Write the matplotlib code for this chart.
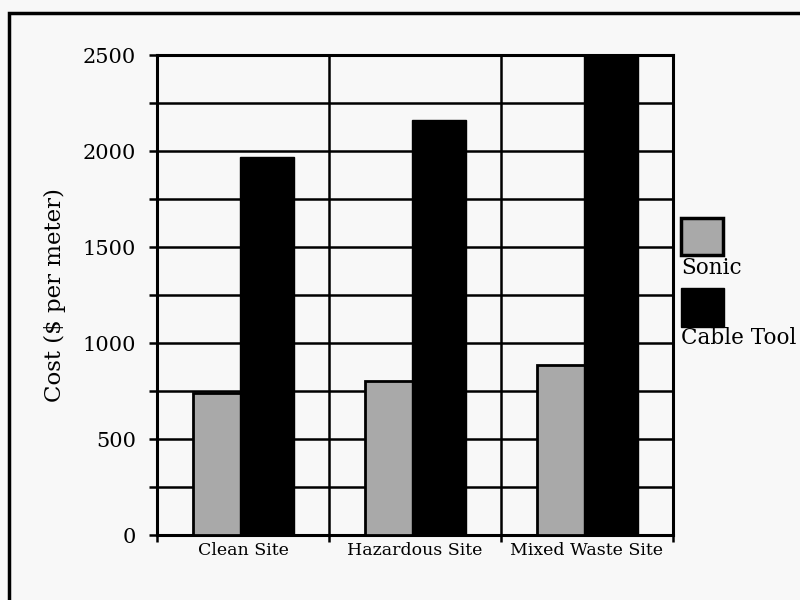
import matplotlib
matplotlib.use('Agg')
from matplotlib import pyplot as plt
from matplotlib.patches import Rectangle

plt.rcParams['font.family'] = ['DejaVu Serif']

# 数据
sites = ['Clean Site', 'Hazardous Site', 'Mixed Waste Site']
sonic = [740, 800, 885]
cable_tool = [1970, 2160, 2500]
sonic_color = '#a9a9a9'
bg = '#f8f8f8'

fig = plt.figure(figsize=(8, 6), dpi=100, facecolor=bg)
ax = fig.add_axes([0.19625, 0.10833, 0.645, 0.8], facecolor=bg)

x = list(range(len(sites)))
ax.bar([i - 0.29 for i in x], sonic, width=0.28, align='edge',
       color=sonic_color, edgecolor='black', linewidth=2, zorder=3)
ax.bar([i - 0.015 for i in x], cable_tool, width=0.31, align='edge',
       color='black', edgecolor='black', linewidth=1.0, zorder=3)

ax.set_xlim(-0.5, 2.5)
ax.set_ylim(0, 2500)
ax.set_yticks([0, 500, 1000, 1500, 2000, 2500])
ax.set_yticks(range(250, 2500, 500), minor=True)
ax.set_xticks([-0.5, 0.5, 1.5, 2.5])
ax.set_xticklabels([])
ax.set_xticks(x, minor=True)
ax.set_xticklabels(sites, minor=True, fontsize=12.5)
ax.tick_params(axis='x', which='minor', length=0, pad=5)
ax.tick_params(axis='x', which='major', length=5, width=1.8, direction='out')
ax.tick_params(axis='y', which='both', length=6, width=1.8, direction='out', labelsize=15, pad=9)

ax.grid(True, which='both', axis='y', color='black', linewidth=1.8, zorder=1)
ax.grid(True, which='major', axis='x', color='black', linewidth=1.8, zorder=1)
for s in ax.spines.values():
    s.set_linewidth(2.2)

ax.set_ylabel('Cost ($ per meter)', fontsize=16.5, labelpad=12)

# 图例(画在坐标区外面)
fig.patches.append(Rectangle((681 / 800, 1 - 255 / 600), 42 / 800, 37 / 600,
                             transform=fig.transFigure, facecolor=sonic_color,
                             edgecolor='black', linewidth=2.5))
fig.text(681 / 800, 1 - 268 / 600, 'Sonic', fontsize=15.5, va='center', ha='left')
fig.patches.append(Rectangle((681 / 800, 1 - 327 / 600), 43 / 800, 39 / 600,
                             transform=fig.transFigure, facecolor='black',
                             edgecolor='black', linewidth=1))
fig.text(681 / 800, 1 - 338 / 600, 'Cable Tool', fontsize=15.5, va='center', ha='left')

# 外框
fig.patches.append(Rectangle((9 / 800, -0.1), 1.0, 1 - 13 / 600 + 0.1,
                             transform=fig.transFigure, fill=False,
                             edgecolor='black', linewidth=2.5))

plt.savefig('out.png', dpi=100, facecolor=bg)
